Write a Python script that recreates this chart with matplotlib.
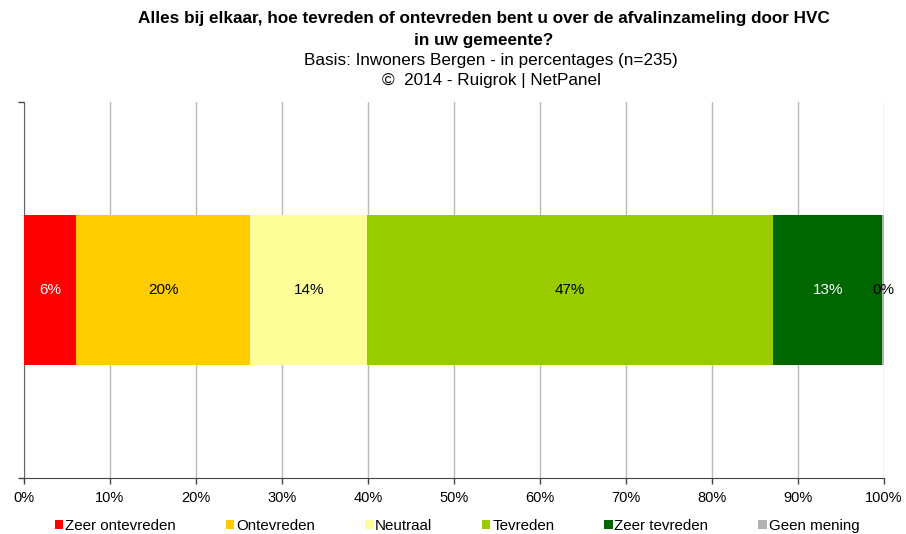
import matplotlib
matplotlib.use("Agg")
import matplotlib.pyplot as plt

plt.rcParams['font.family'] = ['Liberation Sans', 'DejaVu Sans']

categories = ['Zeer ontevreden', 'Ontevreden', 'Neutraal', 'Tevreden', 'Zeer tevreden', 'Geen mening']
values = [6.1, 20.2, 13.6, 47.2, 12.7, 0.2]
colors = ['#FF0000', '#FFCC00', '#FFFF99', '#99CC00', '#006600', '#B2B2B2']
label_colors = ['white', 'black', 'black', 'black', 'white', 'black']
xticks = list(range(0, 101, 10))

fig = plt.figure(figsize=(9.06, 5.34), dpi=100)
ax = fig.add_axes([24 / 906, 1 - 478 / 534, 860 / 906, 376 / 534])

left = 0
bars = []
for cat, val, col, lc in zip(categories, values, colors, label_colors):
    b = ax.barh(0, val, left=left, height=0.4, color=col, label=cat, zorder=3)
    bars.append(b)
    ax.text(left + val / 2, 0, '%d%%' % round(val), ha='center', va='center',
            color=lc, fontsize=11, zorder=4)
    left += val

ax.set_xlim(0, 100)
ax.set_ylim(-0.5, 0.5)
ax.set_xticks(xticks)
ax.set_xticklabels(['%d%%' % t for t in xticks], fontsize=10.5)
ax.set_yticks([-0.5, 0.5])
ax.set_yticklabels([])
ax.tick_params(axis='both', direction='out', length=4, width=1, color='#444444')
ax.tick_params(axis='x', pad=5)
ax.grid(axis='x', color='#BBBBBB', linewidth=1, zorder=0)
for s in ['top', 'right']:
    ax.spines[s].set_visible(False)
ax.spines['left'].set_color('#666666')
ax.spines['bottom'].set_color('#444444')

fig.text(484 / 906, 1 - 19 / 534, 'Alles bij elkaar, hoe tevreden of ontevreden bent u over de afvalinzameling door HVC',
         ha='center', va='center', fontsize=12.3, fontweight='bold')
fig.text(484 / 906, 1 - 40 / 534, 'in uw gemeente?', ha='center', va='center', fontsize=12.3, fontweight='bold')
fig.text(491 / 906, 1 - 60 / 534, 'Basis: Inwoners Bergen - in percentages (n=235)',
         ha='center', va='center', fontsize=12.3)
fig.text(491 / 906, 1 - 80 / 534, '\u00a9  2014 - Ruigrok | NetPanel', ha='center', va='center', fontsize=12.3)

fig.legend(handles=bars, labels=categories, loc='center', bbox_to_anchor=(457 / 906, 1 - 526 / 534),
           ncol=6, frameon=False, fontsize=10.9, handlelength=0.55, handleheight=0.55,
           handletextpad=0.12, columnspacing=3.3)

fig.savefig('out.png', dpi=100)
